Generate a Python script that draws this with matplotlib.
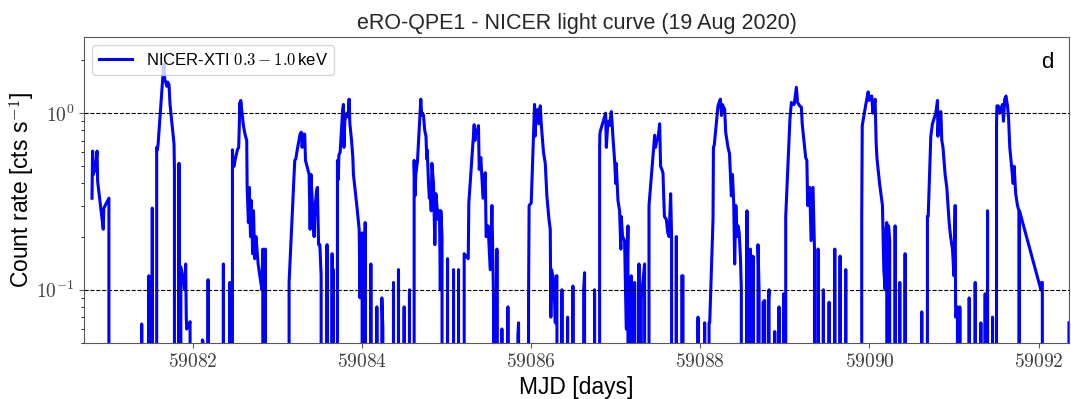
import numpy as np
import matplotlib
matplotlib.use("Agg")
import matplotlib.pyplot as plt
from matplotlib.ticker import FuncFormatter, MultipleLocator, NullFormatter

# NICER-XTI 0.3-1.0 keV light curve of eRO-QPE1.
# times are days after MJD 59080, rates in cts/s; 0 = no counts (drops off the log axis)
mjd0 = 59080

t = [
    0.805, 0.812, 0.822, 0.832, 0.842, 0.865, 0.872, 0.905, 0.938, 0.945, 1.005, 1.014,
    1.389, 1.393, 1.397, 1.455, 1.478, 1.486, 1.500, 1.518, 1.524,
    1.566, 1.570, 1.578, 1.586, 1.645, 1.657, 1.665, 1.677, 1.690, 1.700, 1.716, 1.728, 1.775, 1.780, 1.784,
    1.830, 1.834, 1.840, 1.852, 1.856, 1.893, 1.900, 1.913, 1.920, 1.925, 1.945, 1.965, 1.970,
    2.105, 2.110, 2.118, 2.125, 2.174, 2.178, 2.182, 2.355, 2.359, 2.363, 2.430, 2.434, 2.438,
    2.462, 2.466, 2.472, 2.485, 2.500, 2.525, 2.540, 2.555, 2.560, 2.564, 2.572, 2.596, 2.615, 2.635,
    2.640, 2.655, 2.665, 2.680, 2.690, 2.705, 2.715, 2.730, 2.745, 2.770, 2.790, 2.815, 2.825, 2.830,
    2.850, 2.855, 2.862,
    3.132, 3.136, 3.203, 3.215, 3.240, 3.266, 3.280, 3.290, 3.305, 3.321, 3.330, 3.373, 3.385, 3.395,
    3.420, 3.432, 3.445, 3.460, 3.471, 3.485, 3.500, 3.515, 3.530,
    3.580, 3.585, 3.590, 3.640, 3.645, 3.650, 3.655, 3.660, 3.665,
    3.704, 3.708, 3.718, 3.725, 3.740, 3.770, 3.779, 3.785, 3.795, 3.807, 3.820, 3.835, 3.846, 3.855,
    3.875, 3.890, 3.897, 3.937, 3.965, 3.975, 3.985, 4.000, 4.004,
    4.030, 4.036, 4.042, 4.098, 4.103, 4.108, 4.170, 4.174, 4.178, 4.228, 4.233, 4.245, 4.250,
    4.366, 4.371, 4.376, 4.425, 4.430, 4.435, 4.492, 4.497, 4.502, 4.555, 4.560, 4.565,
    4.611, 4.615, 4.625, 4.635, 4.655, 4.694, 4.705, 4.715, 4.726, 4.740, 4.755, 4.765, 4.770, 4.785,
    4.795, 4.805, 4.817, 4.825, 4.844, 4.860, 4.872, 4.884, 4.900, 4.915, 4.925, 4.931, 4.945, 4.950,
    5.006, 5.010, 5.016, 5.076, 5.081, 5.087, 5.135, 5.140, 5.146,
    5.203, 5.207, 5.255, 5.262, 5.325, 5.335, 5.345, 5.360, 5.376, 5.385, 5.404, 5.430, 5.456, 5.467,
    5.490, 5.515, 5.535, 5.554, 5.560,
    5.590, 5.594, 5.600, 5.649, 5.653, 5.658, 5.720, 5.724, 5.730, 5.838, 5.842, 5.850, 5.856,
    5.964, 5.968, 5.975, 6.000, 6.039, 6.045, 6.060, 6.075, 6.090, 6.107, 6.120, 6.145, 6.166, 6.185,
    6.210, 6.225, 6.232, 6.240, 6.255, 6.270, 6.285, 6.295, 6.304, 6.310,
    6.358, 6.363, 6.369, 6.426, 6.430, 6.436, 6.488, 6.493, 6.499, 6.615, 6.620, 6.631, 6.636,
    6.744, 6.749, 6.754,
    6.805, 6.809, 6.812, 6.820, 6.880, 6.888, 6.907, 6.925, 6.947, 6.955, 6.965, 6.986, 7.000, 7.005,
    7.026, 7.045, 7.060, 7.065, 7.080, 7.104, 7.124, 7.144, 7.150,
    7.178, 7.183, 7.190, 7.218, 7.223, 7.230, 7.268, 7.274, 7.280, 7.296, 7.302, 7.341, 7.347,
    7.385, 7.393, 7.460, 7.470, 7.485, 7.500, 7.519, 7.530, 7.545, 7.558, 7.575, 7.598, 7.615, 7.630,
    7.649, 7.660, 7.665,
    7.712, 7.716, 7.722, 7.775, 7.780, 7.795, 7.800,
    7.968, 7.973, 7.978, 8.046, 8.051, 8.056, 8.098, 8.103,
    8.111, 8.150, 8.155, 8.165, 8.209, 8.237, 8.250, 8.260, 8.288, 8.300, 8.327, 8.345, 8.367, 8.380,
    8.395, 8.406, 8.420, 8.435, 8.446, 8.460, 8.475, 8.485, 8.490,
    8.548, 8.552, 8.558, 8.588, 8.592, 8.598, 8.620, 8.623, 8.630, 8.678, 8.682, 8.695, 8.700,
    8.738, 8.742, 8.760, 8.765,
    8.800, 8.805, 8.813, 8.818, 8.876, 8.880, 8.885, 8.926, 8.931, 8.936, 8.980, 8.986, 8.990,
    9.004, 9.010, 9.060, 9.077, 9.090, 9.110, 9.136, 9.150, 9.175, 9.195, 9.205, 9.246, 9.260, 9.270,
    9.294, 9.310, 9.333, 9.350, 9.355,
    9.388, 9.393, 9.400, 9.450, 9.455, 9.460, 9.518, 9.523, 9.528, 9.585, 9.590, 9.595,
    9.648, 9.653, 9.658, 9.715, 9.720, 9.725,
    9.878, 9.909, 9.915, 9.957, 9.985, 9.995, 10.005, 10.015, 10.027, 10.040, 10.050, 10.067, 10.080,
    10.090, 10.120, 10.154, 10.170, 10.186, 10.192, 10.205, 10.212,
    10.222, 10.226, 10.240, 10.250, 10.300, 10.304, 10.310, 10.354, 10.359, 10.364, 10.418, 10.422, 10.428,
    10.614, 10.619, 10.624, 10.663, 10.686, 10.695, 10.726, 10.745, 10.785, 10.805, 10.810, 10.822,
    10.845, 10.856, 10.870, 10.895, 10.915, 10.943, 10.960, 10.982, 11.000, 11.014, 11.020, 11.041, 11.046,
    11.065, 11.069, 11.074, 11.175, 11.180, 11.186, 11.246, 11.251, 11.256, 11.313, 11.318, 11.323,
    11.364, 11.369, 11.374, 11.392, 11.397, 11.402, 11.451, 11.456, 11.461,
    11.500, 11.503, 11.508, 11.523, 11.540, 11.550, 11.574, 11.585, 11.600, 11.615, 11.633, 11.645,
    11.660, 11.673, 11.690, 11.700, 11.712, 11.730, 11.751, 11.768, 11.771, 11.775, 12.028, 12.035,
    12.045, 12.048, 12.345, 12.360,
]

rate = [
    0.33, 0.61, 0.45, 0.50, 0.47, 0.61, 0.41, 0.30, 0.22, 0.29, 0.33, 0,
    0, 0.064, 0, 0, 0.12, 0, 0, 0.29, 0,
    0, 0.64, 0.62, 0.66, 1.66, 1.90, 1.55, 1.50, 1.42, 1.50, 1.45, 1.12, 0.67, 0.48, 0,
    0, 0.52, 0, 0, 0.135, 0.108, 0.10, 0.14, 0.07, 0.06, 0.062, 0.066, 0,
    0, 0.052, 0.051, 0, 0, 0.114, 0, 0, 0.14, 0, 0, 0.11, 0,
    0, 0.62, 0.52, 0.50, 0.55, 0.62, 0.64, 1.15, 1.00, 1.18, 1.08, 0.85, 0.76, 0.70,
    0.38, 0.24, 0.38, 0.20, 0.32, 0.16, 0.28, 0.15, 0.20, 0.14, 0.12, 0.10, 0.17, 0,
    0, 0.17, 0,
    0, 0.11, 0.54, 0.55, 0.65, 0.76, 0.78, 0.64, 0.76, 0.76, 0.54, 0.45, 0.22, 0.45,
    0.25, 0.20, 0.30, 0.36, 0.38, 0.18, 0.18, 0.12, 0,
    0, 0.18, 0, 0, 0.16, 0, 0, 0.13, 0,
    0, 0.54, 0.42, 0.58, 0.60, 1.05, 1.12, 0.64, 0.90, 0.97, 1.00, 0.95, 1.20, 0.87,
    0.70, 0.56, 0.45, 0.30, 0.22, 0.09, 0.20, 0.21, 0,
    0, 0.24, 0, 0, 0.14, 0, 0, 0.08, 0, 0, 0.09, 0.06, 0,
    0, 0.11, 0, 0, 0.13, 0, 0, 0.08, 0, 0, 0.10, 0,
    0, 0.54, 0.34, 0.45, 0.54, 1.20, 0.97, 1.00, 0.97, 0.80, 0.74, 0.55, 0.62, 0.40,
    0.33, 0.37, 0.28, 0.52, 0.40, 0.18, 0.35, 0.30, 0.25, 0.28, 0.10, 0.28, 0.20, 0,
    0, 0.15, 0, 0, 0.13, 0, 0, 0.13, 0,
    0, 0.16, 0.15, 0.31, 0.86, 0.70, 0.80, 0.78, 0.85, 0.48, 0.56, 0.33, 0.46, 0.20,
    0.23, 0.13, 0.30, 0.09, 0,
    0, 0.17, 0, 0, 0.06, 0, 0, 0.08, 0, 0, 0.055, 0.065, 0,
    0, 0.085, 0.30, 0.31, 1.12, 0.74, 1.00, 1.05, 0.87, 1.10, 0.85, 0.60, 0.52, 0.34,
    0.25, 0.22, 0.07, 0.13, 0.12, 0.10, 0.065, 0.12, 0.12, 0,
    0, 0.10, 0, 0, 0.07, 0, 0, 0.105, 0, 0, 0.10, 0.125, 0,
    0, 0.10, 0,
    0, 0.64, 0.76, 0.80, 1.00, 0.64, 0.90, 0.85, 1.02, 0.90, 0.75, 0.54, 0.40, 0.52,
    0.32, 0.28, 0.17, 0.26, 0.20, 0.19, 0.06, 0.23, 0,
    0, 0.12, 0, 0, 0.11, 0, 0, 0.14, 0, 0, 0.09, 0.14, 0,
    0, 0.30, 0.75, 0.64, 0.70, 0.72, 0.87, 0.50, 0.48, 0.46, 0.26, 0.25, 0.21, 0.20,
    0.35, 0.20, 0,
    0, 0.20, 0, 0, 0.12, 0.12, 0,
    0, 0.07, 0, 0, 0.065, 0, 0, 0.065,
    0.065, 0.25, 0.64, 0.66, 1.10, 1.20, 0.97, 1.12, 1.05, 0.78, 0.64, 0.59, 0.34, 0.45,
    0.31, 0.14, 0.30, 0.20, 0.23, 0.21, 0.15, 0.10, 0,
    0, 0.28, 0, 0, 0.17, 0, 0, 0.155, 0, 0, 0.18, 0.10, 0,
    0, 0.085, 0.087, 0,
    0, 0.087, 0.10, 0, 0, 0.058, 0, 0, 0.08, 0, 0, 0.095, 0,
    0, 0.26, 0.93, 1.15, 1.12, 1.12, 1.40, 1.15, 1.10, 1.08, 0.87, 0.56, 0.54, 0.30,
    0.38, 0.19, 0.38, 0.17, 0,
    0, 0.17, 0, 0, 0.10, 0, 0, 0.085, 0, 0, 0.17, 0,
    0, 0.155, 0, 0, 0.13, 0,
    0, 0.25, 0.85, 1.12, 1.32, 1.18, 1.25, 1.20, 1.25, 1.00, 1.05, 1.20, 0.67,
    0.55, 0.40, 0.30, 0.13, 0.10, 0.21, 0.24, 0,
    0, 0.23, 0.19, 0, 0, 0.23, 0, 0, 0.11, 0, 0, 0.16, 0,
    0, 0.075, 0, 0, 0.26, 0.26, 0.74, 0.87, 1.00, 1.18, 0.74, 1.00,
    1.02, 0.70, 0.64, 0.45, 0.38, 0.24, 0.20, 0.17, 0.12, 0.30, 0.07, 0.08, 0,
    0, 0.08, 0, 0, 0.09, 0, 0, 0.11, 0, 0, 0.065, 0,
    0, 0.095, 0, 0, 0.28, 0, 0, 0.07, 0,
    0, 0.87, 1.10, 1.10, 1.00, 1.05, 1.12, 0.90, 1.20, 1.25, 1.10, 0.95,
    0.64, 0.55, 0.45, 0.40, 0.50, 0.35, 0.30, 0.28, 0, 0.28, 0.10, 0.11,
    0.11, 0, 0, 0.065,
]

assert len(t) == len(rate)
mjd = mjd0 + np.array(t)
rate = np.array(rate)

plt.rcParams['font.family'] = ['Liberation Sans', 'DejaVu Sans']
plt.rcParams['mathtext.fontset'] = 'cm'

fig = plt.figure(figsize=(10.71, 3.99), dpi=100)
ax = fig.add_axes([0.0784, 0.1404, 0.9197, 0.767])

ax.plot(mjd, rate, color='blue', lw=2.2, label=r'NICER-XTI $0.3-1.0\,$keV')
ax.set_yscale('log')
ax.axhline(1.0, color='k', ls='--', lw=0.8)
ax.axhline(0.1, color='k', ls='--', lw=0.8)

ax.set_xlim(59080.71, 59092.36)
ax.set_ylim(0.05, 2.7)

ax.xaxis.set_major_locator(MultipleLocator(2))
ax.xaxis.set_major_formatter(FuncFormatter(lambda v, p: r'$%d$' % round(v)))
ax.yaxis.set_major_formatter(FuncFormatter(lambda v, p: r'$10^{%d}$' % round(np.log10(v))))
ax.yaxis.set_minor_formatter(NullFormatter())
ax.tick_params(labelsize=14, labelcolor='0.25', color='0.35')
for s in ax.spines.values():
    s.set_color('0.35')

ax.set_xlabel('MJD [days]', fontsize=16.5)
ax.set_ylabel(r'Count rate [cts s$^{-1}$]', fontsize=16.5, labelpad=-1)
ax.set_title('eRO-QPE1 - NICER light curve (19 Aug 2020)', fontsize=15.5, color='0.15')
ax.text(0.984, 0.90, 'd', transform=ax.transAxes, fontsize=16, ha='right')
ax.legend(loc='upper left', fontsize=12)

fig.savefig('out.png', dpi=100)
